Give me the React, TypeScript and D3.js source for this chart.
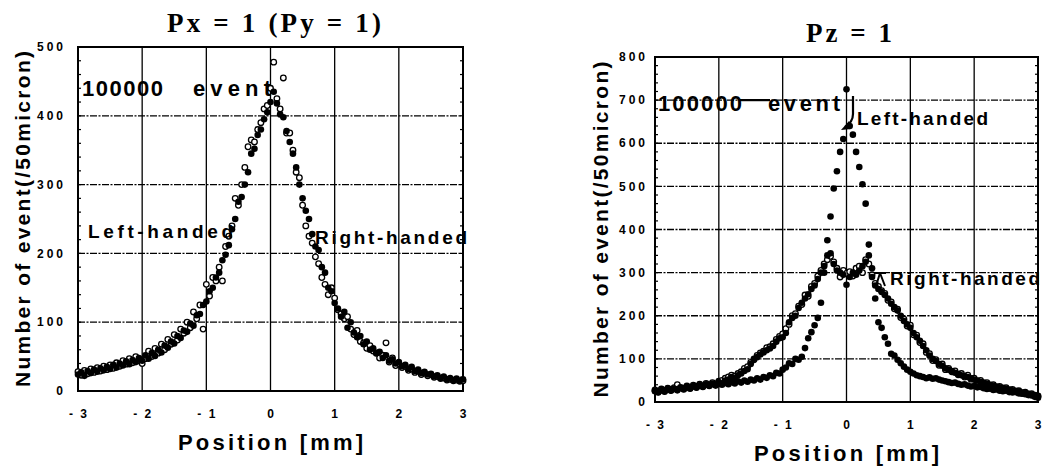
import React from "react";
import * as d3 from "d3";

// Bin centres (50 micron bins) from -3 mm to +3 mm
const POSITIONS: number[] = d3.range(121).map((i) => +(-3 + i * 0.05).toFixed(2));

const X_TICKS = [-3, -2, -1, 0, 1, 2, 3];
const X_TICK_LABELS = ["- 3", "- 2", "- 1", "0", "1", "2", "3"];
const Y_TICKS_PX = [0, 100, 200, 300, 400, 500];
const Y_TICKS_PZ = [0, 100, 200, 300, 400, 500, 600, 700, 800];

// Px = 1 chart : filled markers
const PX_FILLED = [
  24, 27, 22, 29, 26, 31, 28, 33, 30, 35, 32, 38, 34, 40, 37, 43, 39, 45, 42, 48,
  44, 52, 47, 55, 51, 60, 56, 66, 63, 72, 69, 80, 77, 88, 86, 98, 95, 110, 112, 125,
  130, 145, 150, 165, 172, 190, 198, 212, 235, 250, 275, 282, 300, 318, 345, 352, 372, 380, 395, 405,
  420, 435, 418, 402, 398, 378, 362, 345, 325, 300, 280, 262, 250, 228, 210, 205, 180, 172, 150, 145,
  128, 120, 108, 115, 92, 100, 85, 78, 80, 68, 72, 60, 62, 55, 57, 48, 52, 44, 46, 40,
  42, 36, 38, 32, 35, 29, 31, 26, 28, 24, 25, 21, 23, 19, 21, 17, 19, 16, 18, 15,
  17,
];
// Px = 1 chart : open markers
const PX_OPEN = [
  28, 23, 30, 25, 32, 27, 34, 29, 36, 31, 38, 33, 41, 36, 44, 39, 47, 41, 50, 44,
  40, 47, 58, 50, 62, 55, 68, 60, 75, 68, 82, 74, 90, 84, 100, 92, 115, 105, 125, 90,
  155, 138, 165, 160, 180, 160, 210, 225, 240, 280, 270, 300, 325, 355, 365, 362, 380, 390, 410, 415,
  440, 478, 425, 410, 455, 375, 375, 350, 318, 310, 270, 240, 225, 215, 195, 185, 165, 155, 140, 150,
  135, 118, 112, 105, 108, 90, 82, 88, 72, 70, 62, 66, 58, 55, 48, 52, 70, 42, 48, 37,
  40, 34, 36, 30, 32, 27, 29, 24, 26, 22, 24, 20, 21, 18, 19, 16, 17, 15, 16, 14,
  15,
];

// Pz = 1 chart : narrow (left-handed) filled markers
const PZ_NARROW = [
  25, 22, 27, 24, 29, 26, 30, 27, 32, 29, 34, 31, 36, 33, 38, 35, 40, 37, 41, 38,
  42, 40, 44, 41, 46, 43, 48, 45, 50, 47, 52, 50, 55, 52, 58, 56, 62, 60, 68, 66,
  75, 80, 90, 88, 100, 98, 105, 125, 148, 162, 178, 195, 230, 300, 375, 430, 495, 535, 580, 610,
  725, 640, 620, 580, 545, 505, 460, 365, 290, 240, 185, 172, 150, 135, 112, 108, 98, 90, 82, 75,
  70, 66, 62, 60, 58, 55, 57, 54, 55, 52, 50, 48, 46, 44, 45, 42, 40, 41, 38, 36,
  37, 34, 35, 32, 30, 31, 28, 29, 26, 25, 26, 23, 22, 23, 20, 19, 18, 16, 15, 12,
  10,
];
// Pz = 1 chart : broad (right-handed) filled markers
const PZ_BROAD = [
  26, 23, 28, 25, 30, 27, 31, 29, 33, 30, 35, 32, 37, 34, 39, 36, 41, 38, 43, 40,
  46, 43, 50, 52, 58, 55, 62, 66, 72, 76, 88, 100, 104, 110, 115, 120, 124, 130, 140, 148,
  150, 160, 185, 195, 200, 218, 230, 240, 250, 262, 270, 285, 300, 315, 340, 345, 320, 305, 300, 295,
  272, 290, 300, 295, 305, 315, 325, 340, 310, 270, 262, 255, 248, 240, 228, 220, 212, 200, 188, 180,
  172, 160, 150, 142, 130, 120, 108, 100, 95, 88, 84, 78, 75, 72, 68, 65, 62, 60, 58, 55,
  52, 50, 47, 45, 42, 40, 38, 36, 34, 33, 31, 29, 27, 26, 24, 22, 21, 19, 17, 15,
  13,
];
// Pz = 1 chart : broad (right-handed) open markers
const PZ_BROAD_OPEN = [
  28, 25, 30, 27, 32, 29, 33, 40, 34, 32, 37, 34, 39, 36, 41, 38, 43, 40, 45, 42,
  48, 50, 55, 58, 62, 60, 66, 70, 78, 82, 92, 98, 108, 114, 118, 126, 128, 135, 145, 152,
  158, 170, 180, 200, 205, 222, 226, 248, 245, 268, 275, 292, 305, 320, 330, 338, 325, 310, 290, 305,
  298, 302, 292, 310, 315, 300, 330, 320, 295, 275, 268, 258, 252, 236, 232, 216, 215, 196, 192, 176,
  178, 156, 155, 138, 135, 115, 112, 96, 98, 85, 88, 75, 78, 70, 72, 63, 66, 58, 62, 53,
  55, 48, 50, 43, 45, 38, 40, 34, 36, 31, 33, 27, 29, 24, 26, 21, 23, 18, 19, 16,
  14,
];

const SANS = "'Liberation Sans', Arial, sans-serif";
const SERIF = "'Liberation Serif', 'Times New Roman', serif";

type PanelProps = {
  left: number;
  right: number;
  top: number;
  bottom: number;
  yMax: number;
  yTicks: number[];
  filled: number[][];
  open: number[][];
  title: string;
  titleX: number;
  titleY: number;
  titleLen: number;
  yLabelX: number;
  xLabelY: number;
  xTitleY: number;
  yTitleX: number;
  children?: React.ReactNode;
};

function Panel(p: PanelProps) {
  const x = d3.scaleLinear().domain([-3, 3]).range([p.left, p.right]);
  const y = d3.scaleLinear().domain([0, p.yMax]).range([p.bottom, p.top]);
  const minor = d3.range(0, p.yMax + 1, 20);
  const cx = (p.left + p.right) / 2;
  const cy = (p.top + p.bottom) / 2;
  return (
    <g>
      {/* grid */}
      {X_TICKS.slice(1, -1).map((t) => (
        <line key={"vx" + t} x1={x(t)} x2={x(t)} y1={p.top} y2={p.bottom} stroke="#000" strokeWidth={1.3} />
      ))}
      {p.yTicks.slice(1, -1).map((t) => (
        <line key={"hy" + t} x1={p.left} x2={p.right} y1={y(t)} y2={y(t)} stroke="#000" strokeWidth={1.3} strokeDasharray="7,1.5,2,1.5" />
      ))}
      {/* minor ticks */}
      {minor.map((t) => (
        <g key={"mt" + t}>
          <line x1={p.left} x2={p.left + 3} y1={y(t)} y2={y(t)} stroke="#000" strokeWidth={1.2} />
          <line x1={p.right} x2={p.right - 3} y1={y(t)} y2={y(t)} stroke="#000" strokeWidth={1.2} />
        </g>
      ))}
      {/* frame */}
      <rect x={p.left} y={p.top} width={p.right - p.left} height={p.bottom - p.top} fill="none" stroke="#000" strokeWidth={2} />
      {/* data */}
      {p.open.map((s, si) =>
        s.map((v, i) => (
          <circle key={"o" + si + "-" + i} cx={x(POSITIONS[i])} cy={y(v)} r={2.8} fill="#fff" stroke="#000" strokeWidth={1.3} />
        ))
      )}
      {p.filled.map((s, si) =>
        s.map((v, i) => (
          <circle key={"f" + si + "-" + i} cx={x(POSITIONS[i])} cy={y(v)} r={3.3} fill="#000" />
        ))
      )}
      {/* y tick labels */}
      {p.yTicks.map((t) => (
        <text key={"yl" + t} x={p.yLabelX} y={y(t)} dy="0.35em" textAnchor="end" fontFamily={SANS} fontWeight="bold" fontSize={12} letterSpacing={3}>
          {String(t)}
        </text>
      ))}
      {/* x tick labels */}
      {X_TICKS.map((t, i) => (
        <text key={"xl" + t} x={x(t) + 1} y={p.xLabelY} dy="0.35em" textAnchor="middle" fontFamily={SANS} fontWeight="bold" fontSize={12} letterSpacing={2}>
          {X_TICK_LABELS[i]}
        </text>
      ))}
      {/* axis titles */}
      <text x={cx} y={p.xTitleY} textAnchor="middle" fontFamily={SANS} fontWeight="bold" fontSize={22} textLength={185} lengthAdjust="spacing">
        Position [mm]
      </text>
      <text
        transform={`translate(${p.yTitleX},${cy}) rotate(-90)`}
        textAnchor="middle"
        dy="0.35em"
        fontFamily={SANS}
        fontWeight="bold"
        fontSize={21}
        textLength={336}
        lengthAdjust="spacing"
      >
        Number of event(/50micron)
      </text>
      <text x={p.titleX} y={p.titleY} textAnchor="middle" fontFamily={SERIF} fontWeight="bold" fontSize={27} textLength={p.titleLen} lengthAdjust="spacing">
        {p.title}
      </text>
      {p.children}
    </g>
  );
}

function y700() {
  // same mapping as the Pz panel's y scale (0 → 402, 800 → 57)
  return d3.scaleLinear().domain([0, 800]).range([402, 57])(700);
}

export default function App() {
  return (
    <svg width={1044} height={472} style={{ position: "absolute", left: 0, top: 0, background: "#fff" }}>
      <rect width={1044} height={472} fill="#fff" />
      <Panel
        left={78}
        right={463}
        top={47}
        bottom={391}
        yMax={500}
        yTicks={Y_TICKS_PX}
        filled={[PX_FILLED]}
        open={[PX_OPEN]}
        title="Px = 1 (Py = 1)"
        titleX={274}
        titleY={32}
        titleLen={214}
        yLabelX={66}
        xLabelY={414}
        xTitleY={450}
        yTitleX={23}
      >
        <text x={82} y={96} fontFamily={SANS} fontWeight="bold" fontSize={22} textLength={81} lengthAdjust="spacing">100000</text>
        <text x={193} y={96} fontFamily={SANS} fontWeight="bold" fontSize={22} textLength={78} lengthAdjust="spacing">event</text>
        <text x={88} y={238} fontFamily={SANS} fontWeight="bold" fontSize={19} textLength={145} lengthAdjust="spacing">Left-handed</text>
        <text x={315} y={244} fontFamily={SANS} fontWeight="bold" fontSize={19} textLength={152} lengthAdjust="spacing">Right-handed</text>
      </Panel>
      <Panel
        left={655}
        right={1038}
        top={57}
        bottom={402}
        yMax={800}
        yTicks={Y_TICKS_PZ}
        filled={[PZ_BROAD, PZ_NARROW]}
        open={[PZ_BROAD_OPEN]}
        title="Pz = 1"
        titleX={849}
        titleY={42}
        titleLen={86}
        yLabelX={648}
        xLabelY={425}
        xTitleY={461}
        yTitleX={601}
      >
        <line x1={740} x2={770} y1={y700()} y2={y700()} stroke="#000" strokeWidth={2.2} />
        <text x={658} y={111} fontFamily={SANS} fontWeight="bold" fontSize={22} textLength={84} lengthAdjust="spacing">100000</text>
        <text x={768} y={111} fontFamily={SANS} fontWeight="bold" fontSize={22} textLength={72} lengthAdjust="spacing">event</text>
        <path d="M853,96 L853,114 Q853,122 845,127" fill="none" stroke="#000" strokeWidth={2.2} />
        <path d="M841,130 L849,121 L851,129 Z" fill="#000" />
        <text x={857} y={125} fontFamily={SANS} fontWeight="bold" fontSize={19} textLength={131} lengthAdjust="spacing">Left-handed</text>
        <path d="M874,273 L886,273 M880,273 L876,286 M880,273 L885,286" fill="none" stroke="#000" strokeWidth={2} />
        <text x={890} y={285} fontFamily={SANS} fontWeight="bold" fontSize={19} textLength={150} lengthAdjust="spacing">Right-handed</text>
      </Panel>
    </svg>
  );
}
